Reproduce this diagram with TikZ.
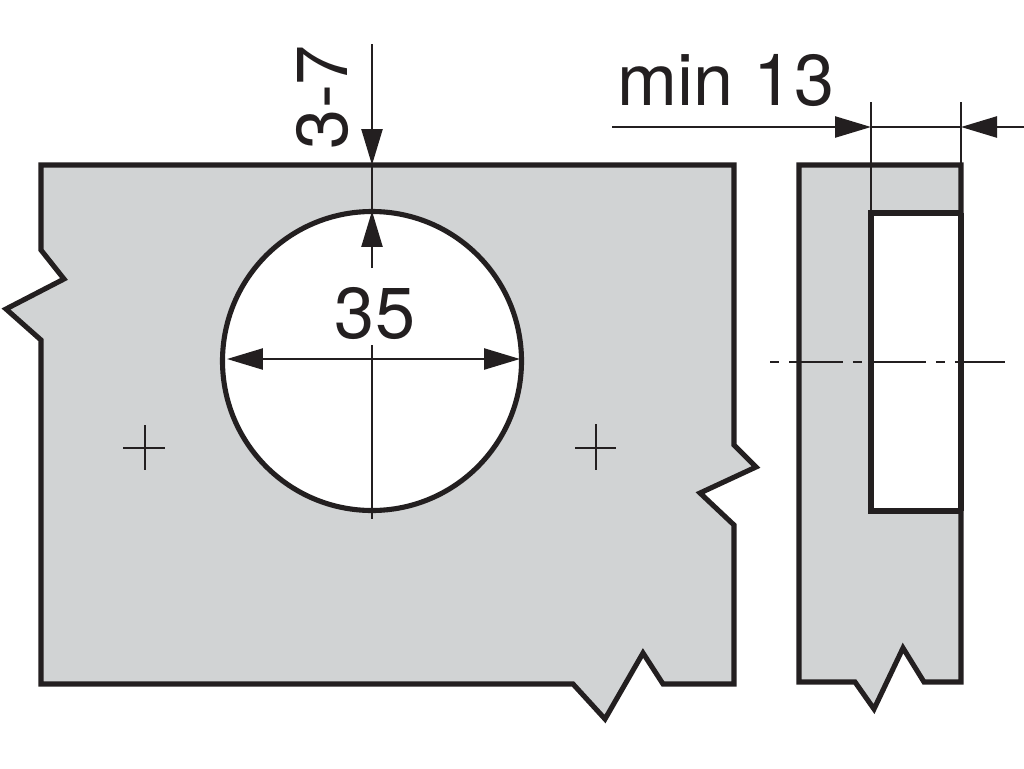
\documentclass[tikz,border=0pt]{standalone}
\usepackage{fontspec}
\setmainfont{TeX Gyre Heros}
\usetikzlibrary{arrows.meta}
\definecolor{partgrey}{HTML}{D1D3D4}
\definecolor{inkblack}{HTML}{231F20}
\tikzset{
	outline/.style={line width=2.9pt, color=inkblack, line join=miter},
	thinline/.style={line width=1.4pt, color=inkblack},
	dimtip/.style={-{Triangle[length=0.72cm, width=0.42cm]}, thinline},
	dimlabel/.style={color=inkblack, inner sep=0pt, font=\fontsize{41}{41}\selectfont}
}
\begin{document}
\begin{tikzpicture}[x=0.02cm, y=-0.02cm]
			%%%%% START %%%%%
			\useasboundingbox (0, 0) rectangle (1024, 768);
			
			\draw[outline, fill=partgrey] (41, 165) -- (734, 165) -- (734, 445) -- (756, 467) -- (700, 493) -- (734, 525) -- (734, 684) -- (663, 684) -- (643, 653) -- (605, 719) -- (573, 684) -- (41, 684) -- (41, 340) -- (6, 309) -- (64, 279) -- (41, 250) -- cycle;
			\draw[outline, fill=white] (372, 361) circle (149.5);
			
			\draw[outline, fill=partgrey] (799, 165) -- (961, 165) -- (961, 682) -- (924, 682) -- (903, 648) -- (874, 709) -- (855, 682) -- (799, 682) -- cycle;
			\draw[outline, fill=white] (961, 213) -- (871, 213) -- (871, 511) -- (961, 511);
			\draw[outline] (961, 213) -- (961, 511);
			
			\draw[thinline] (123, 448) -- (165, 448);
			\draw[thinline] (145, 425) -- (145, 470);
			\draw[thinline] (575, 448) -- (616, 448);
			\draw[thinline] (596, 424) -- (596, 470);
			
			\draw[dimtip] (372, 44) -- (372, 165);
			\draw[thinline] (372, 165) -- (372, 211);
			\draw[dimtip] (372, 268) -- (372, 211);
			\draw[thinline] (372, 345) -- (372, 519);
			\draw[dimtip] (372, 359) -- (227, 359);
			\draw[dimtip] (372, 359) -- (520, 359);
			
			\draw[thinline] (871, 102) -- (871, 213);
			\draw[thinline] (961, 102) -- (961, 165);
			\draw[thinline] (871, 127) -- (961, 127);
			\draw[dimtip] (612, 127) -- (871, 127);
			\draw[dimtip] (1024, 127) -- (961, 127);
			
			\draw[thinline, dash pattern=on 0.18cm off 0.2cm on 1.08cm off 0.2cm] (770, 362) -- (1005, 362);
			
			\node[dimlabel] (diameter) at (375, 313) {35};
			\node[dimlabel, rotate=90] (offset) at (322, 97) {3-7};
			\node[dimlabel] (depth) at (726, 80) {min 13};
			
			%%%%% END %%%%%
		\end{tikzpicture}
\end{document}
